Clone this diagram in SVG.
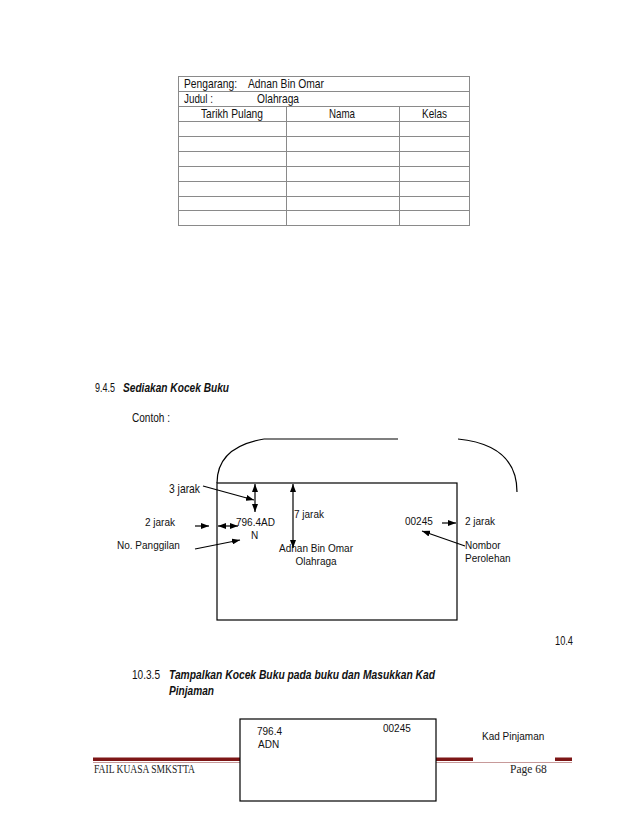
<svg xmlns="http://www.w3.org/2000/svg" width="638" height="826" viewBox="0 0 638 826">
<style>
.n{font-family:"Liberation Sans",Arial,sans-serif;font-size:13px;fill:#111}
.a{font-family:"Liberation Sans",Arial,sans-serif;font-size:10px;fill:#111}
.bi{font-weight:bold;font-style:italic}
.f{font-family:"Liberation Serif","Times New Roman",serif;font-size:11.5px;fill:#222}
.g{stroke:#8a8a8a;stroke-width:1;fill:none}
.k{stroke:#000;stroke-width:1.2;fill:none}
.box{fill:#fff;stroke:#000;stroke-width:1.2}
</style>
<defs>
<marker id="ah" viewBox="0 0 8 6" refX="8" refY="3" markerWidth="8" markerHeight="6" markerUnits="userSpaceOnUse" orient="auto-start-reverse">
<path d="M0,0 L8,3 L0,6 z" fill="#000"/>
</marker>
</defs>
<rect width="638" height="826" fill="#fff"/>

<g id="table">
<rect class="g" x="178.5" y="76.5" width="291" height="149"/>
<path class="g" d="M178.5,91.5H469.5M178.5,106.5H469.5M178.5,121.5H469.5M178.5,136.5H469.5M178.5,151.5H469.5M178.5,166.5H469.5M178.5,181.5H469.5M178.5,196.5H469.5M178.5,210.5H469.5M286.5,106.5V225.5M399.5,106.5V225.5"/>
<text class="n" x="184" y="88" textLength="53" lengthAdjust="spacingAndGlyphs">Pengarang:</text>
<text class="n" x="248" y="88" textLength="76" lengthAdjust="spacingAndGlyphs">Adnan Bin Omar</text>
<text class="n" x="184" y="103" textLength="29" lengthAdjust="spacingAndGlyphs">Judul :</text>
<text class="n" x="257" y="103" textLength="42" lengthAdjust="spacingAndGlyphs">Olahraga</text>
<text class="n" x="201" y="118" textLength="62" lengthAdjust="spacingAndGlyphs">Tarikh Pulang</text>
<text class="n" x="329" y="118" textLength="26" lengthAdjust="spacingAndGlyphs">Nama</text>
<text class="n" x="422" y="118" textLength="25" lengthAdjust="spacingAndGlyphs">Kelas</text>
</g>

<g id="heading945">
<text class="n" x="95" y="392" textLength="20" lengthAdjust="spacingAndGlyphs">9.4.5</text>
<text class="n bi" x="123" y="392" textLength="106" lengthAdjust="spacingAndGlyphs">Sediakan Kocek Buku</text>
<text class="n" x="132" y="422" textLength="38" lengthAdjust="spacingAndGlyphs">Contoh :</text>
</g>

<g id="pocket-flap">
<path class="k" d="M264,439 H398"/>
<path class="k" d="M264,439 Q217,447 217,483"/>
<path class="k" d="M458,439 Q517,445 517,492"/>
</g>

<g id="pocket-card">
<rect class="box" x="217" y="483" width="240" height="137"/>
<text class="a" x="236" y="526">796.4AD</text>
<text class="a" x="251" y="539">N</text>
<text class="a" x="294" y="518">7 jarak</text>
<text class="a" x="405" y="525">00245</text>
<text class="a" x="316" y="552" text-anchor="middle">Adnan Bin Omar</text>
<text class="a" x="316" y="565" text-anchor="middle">Olahraga</text>
</g>

<g id="labels">
<text class="n" x="169" y="493" textLength="31" lengthAdjust="spacingAndGlyphs">3 jarak</text>
<text class="a" x="145" y="526" font-size="10.4">2 jarak</text>
<text class="a" x="117" y="549" font-size="10.3">No. Panggilan</text>
<text class="a" x="465" y="525" font-size="10.4">2 jarak</text>
<text class="a" x="465" y="549" font-size="10.4">Nombor</text>
<text class="a" x="465" y="562" font-size="10.4">Perolehan</text>
</g>

<g id="connectors">
<path class="k" d="M255,484 V512" marker-start="url(#ah)" marker-end="url(#ah)"/>
<path class="k" d="M293,484 V548" marker-start="url(#ah)" marker-end="url(#ah)"/>
<path class="k" d="M203,486 L254,500" marker-end="url(#ah)"/>
<path class="k" d="M195,526 H209" marker-end="url(#ah)"/>
<path class="k" d="M218,526 H238" marker-start="url(#ah)" marker-end="url(#ah)"/>
<path class="k" d="M195,549 L240,540" marker-end="url(#ah)"/>
<path class="k" d="M442,523 H456" marker-end="url(#ah)"/>
<path class="k" d="M465,546 L422,531" marker-end="url(#ah)"/>
</g>

<g id="section104">
<text class="n" x="555" y="645" textLength="18" lengthAdjust="spacingAndGlyphs">10.4</text>
<text class="n" x="132" y="679" textLength="28" lengthAdjust="spacingAndGlyphs">10.3.5</text>
<text class="n bi" x="169" y="679" textLength="266" lengthAdjust="spacingAndGlyphs">Tampalkan Kocek Buku pada buku dan Masukkan Kad</text>
<text class="n bi" x="169" y="695" textLength="45" lengthAdjust="spacingAndGlyphs">Pinjaman</text>
</g>

<g id="footer">
<rect x="93" y="757.5" width="380" height="3.5" fill="#7d1616"/>
<rect x="555" y="757.5" width="17" height="3.5" fill="#7d1616"/>
<rect x="93" y="762" width="479" height="1" fill="#c79a9a"/>
<text class="f" x="94" y="773" textLength="101" lengthAdjust="spacingAndGlyphs">FAIL KUASA SMKSTTA</text>
<text class="f" x="510" y="773">Page 68</text>
</g>

<g id="loan-card">
<rect class="box" x="240" y="719" width="196" height="82"/>
<text class="a" x="257" y="735">796.4</text>
<text class="a" x="258" y="748">ADN</text>
<text class="a" x="383" y="732">00245</text>
</g>
<g id="loan-label">
<text class="a" x="482" y="740">Kad Pinjaman</text>
</g>
</svg>
